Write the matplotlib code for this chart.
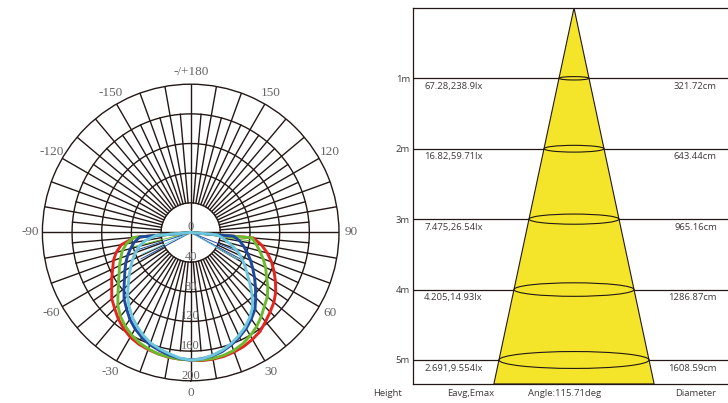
import numpy as np
import matplotlib
matplotlib.use("Agg")
import matplotlib.pyplot as plt
from matplotlib.patches import Ellipse, Polygon
from matplotlib.transforms import offset_copy, blended_transform_factory

# ---------------- data ----------------
angles_deg = list(range(-90, 95, 5))
red = [0, 76, 95, 104, 111, 116, 123, 130, 139, 145, 152, 158, 163, 166, 168, 169.5, 171, 171.5, 172,
       173.5, 173.5, 173, 171.5, 169.5, 166.5, 163, 157, 151.5, 146.5, 140, 132, 124, 116, 107, 97, 85, 0]
green = [0, 78, 88, 95.5, 100.5, 106, 111.5, 119, 128, 139, 147.5, 154, 159.5, 164, 167, 169.5, 170.5, 171.5, 172,
         172.6, 172.5, 171.5, 169.5, 165.7, 160.6, 155, 148, 140.5, 135, 127, 118, 111.5, 104, 96.5, 89.5, 83, 0]
blue = [0, 69, 77.5, 84, 90.5, 96.5, 102.5, 109, 117.5, 127, 134.5, 143, 150, 156, 161, 164.5, 167.8, 170.5, 172,
        171, 169, 166, 161, 155.5, 149.5, 142.5, 135, 124, 114, 105, 96.6, 89, 81.5, 74.5, 67.5, 58.5, 0]
cyan = [0, 47, 62, 72, 79.5, 86.5, 93.5, 101.5, 110, 120.5, 129.5, 138, 145.5, 152.5, 158.5, 162.5, 166, 170, 172,
        171.2, 168.3, 164.5, 159.5, 153.5, 147, 139.2, 130, 117, 103.5, 92.2, 83, 74, 64, 53, 44, 35, 0]
series_names = ["red", "green", "blue", "cyan"]
series_values = [red, green, blue, cyan]
series_colors = ["#E62420", "#6CBB2E", "#1D4A9E", "#6DC6DB"]

# thin chords from the centre (angle, value)
thin_green = [(-76, 81), (82, 82)]
thin_blue = [(-72, 76), (-62, 76), (68, 70), (62, 77)]
thin_cyan = [(-66, 72), (60, 72)]

ring_values = [0, 40, 80, 120, 160, 200]
angle_labels = [0, 30, 60, 90, 120, 150, 180, -150, -120, -90, -60, -30]

# cone diagram data
heights = [1, 2, 3, 4, 5]
eavg_emax = ["67.28,238.9lx", "16.82,59.71lx", "7.475,26.54lx", "4.205,14.93lx", "2.691,9.554lx"]
diameters = [321.72, 643.44, 965.16, 1286.87, 1608.59]
beam_angle = 115.71

# ---------------- figure ----------------
fig = plt.figure(figsize=(7.28, 4.03), dpi=100)
grid_col = "#231815"
label_col = "#666464"
serif = ["Liberation Serif", "DejaVu Serif"]

ax = fig.add_axes([0.05824, 0.05509, 0.4074, 0.736], projection="polar")
ax.set_theta_zero_location("S")
ax.set_theta_direction(1)
ax.set_ylim(0, 200)
ax.set_xticks([])
ax.set_yticks([])
ax.grid(False)
ax.spines["polar"].set_color(grid_col)
ax.spines["polar"].set_linewidth(1.0)

full = np.linspace(0, 2 * np.pi, 721)
for r in ring_values[1:-1]:
    ax.plot(full, np.full_like(full, r), color=grid_col, lw=1.0, zorder=1)
for a in range(0, 360, 5):
    th = np.deg2rad(a)
    if a % 90 == 0:
        ax.plot([th, th], [0, 200], color=grid_col, lw=1.0, zorder=1)
    elif a % 10 == 0:
        ax.plot([th, th], [40, 200], color=grid_col, lw=1.0, zorder=1)
    else:
        ax.plot([th, th], [40, 160], color=grid_col, lw=1.0, zorder=1)

theta = np.deg2rad(angles_deg)
for vals, col in zip(series_values, series_colors):
    ax.plot(theta, vals, color=col, lw=2.1, zorder=3, solid_joinstyle="round")

for pts, col in ((thin_green, series_colors[1]), (thin_blue, series_colors[2]), (thin_cyan, series_colors[3])):
    for a, v in pts:
        ax.plot([0, np.deg2rad(a)], [0, v], color=col, lw=0.7, zorder=2.5)

for a in angle_labels:
    txt = "-/+180" if a == 180 else str(a)
    ax.text(np.deg2rad(a), 216.5, txt, ha="center", va="center", fontsize=9.5,
            family=serif, color=label_col, clip_on=False)

trans_up = offset_copy(ax.transData, fig=fig, x=0, y=5.2 * 72 / 100, units="points")
for r in ring_values:
    ax.text(0, r, str(r), transform=trans_up, ha="center", va="center", fontsize=9,
            family=serif, color=label_col, zorder=4)

# ---------------- cone diagram ----------------
ax2 = fig.add_axes([413 / 728, 0.04715, 315 / 728, 0.9333])
ybot = 5.341
ax2.set_ylim(ybot, 0)
ax2.set_xlim(-1726, 1651)
for s in ("top", "left", "bottom"):
    ax2.spines[s].set_color(grid_col)
    ax2.spines[s].set_linewidth(0.9)
ax2.spines["right"].set_visible(False)
ax2.set_xticks([])
ax2.set_yticks(heights, labels=[f"{h}m" for h in heights])
ax2.tick_params(axis="y", length=0, pad=2.2, labelsize=6.8, colors="#3e3a39")
for lab in ax2.get_yticklabels():
    lab.set_family("Open Sans")

for h in heights:
    ax2.axhline(h, color=grid_col, lw=0.9, zorder=1)

k = diameters[-1] / 2 / heights[-1]
cone = Polygon([(0, 0), (-k * ybot, ybot), (k * ybot, ybot)], closed=True,
               facecolor="#F4E52B", edgecolor=grid_col, lw=0.8, zorder=2)
ax2.add_patch(cone)
for h, d in zip(heights, diameters):
    ax2.add_patch(Ellipse((0, h), width=d, height=0.048 * h, fill=False,
                          edgecolor=grid_col, lw=0.8, zorder=3))

bt = blended_transform_factory(ax2.transAxes, ax2.transData)
tcol = "#3e3a39"
for h, e, d in zip(heights, eavg_emax, diameters):
    ax2.text(0.035, h + 0.115, e, transform=bt, ha="left", va="center",
             fontsize=6.8, family="Open Sans", color=tcol)
    ax2.text(0.965, h + 0.115, f"{d:.2f}cm", transform=bt, ha="right", va="center",
             fontsize=6.8, family="Open Sans", color=tcol)

yb = 1 - 394 / 403
for x, s in ((387, "Height"), (471, "Eavg,Emax"), (565, f"Angle:{beam_angle}deg"), (696, "Diameter")):
    fig.text(x / 728, yb, s, ha="center", va="center", fontsize=6.8,
             family="Open Sans", color=tcol)

fig.savefig("out.png", dpi=100)
